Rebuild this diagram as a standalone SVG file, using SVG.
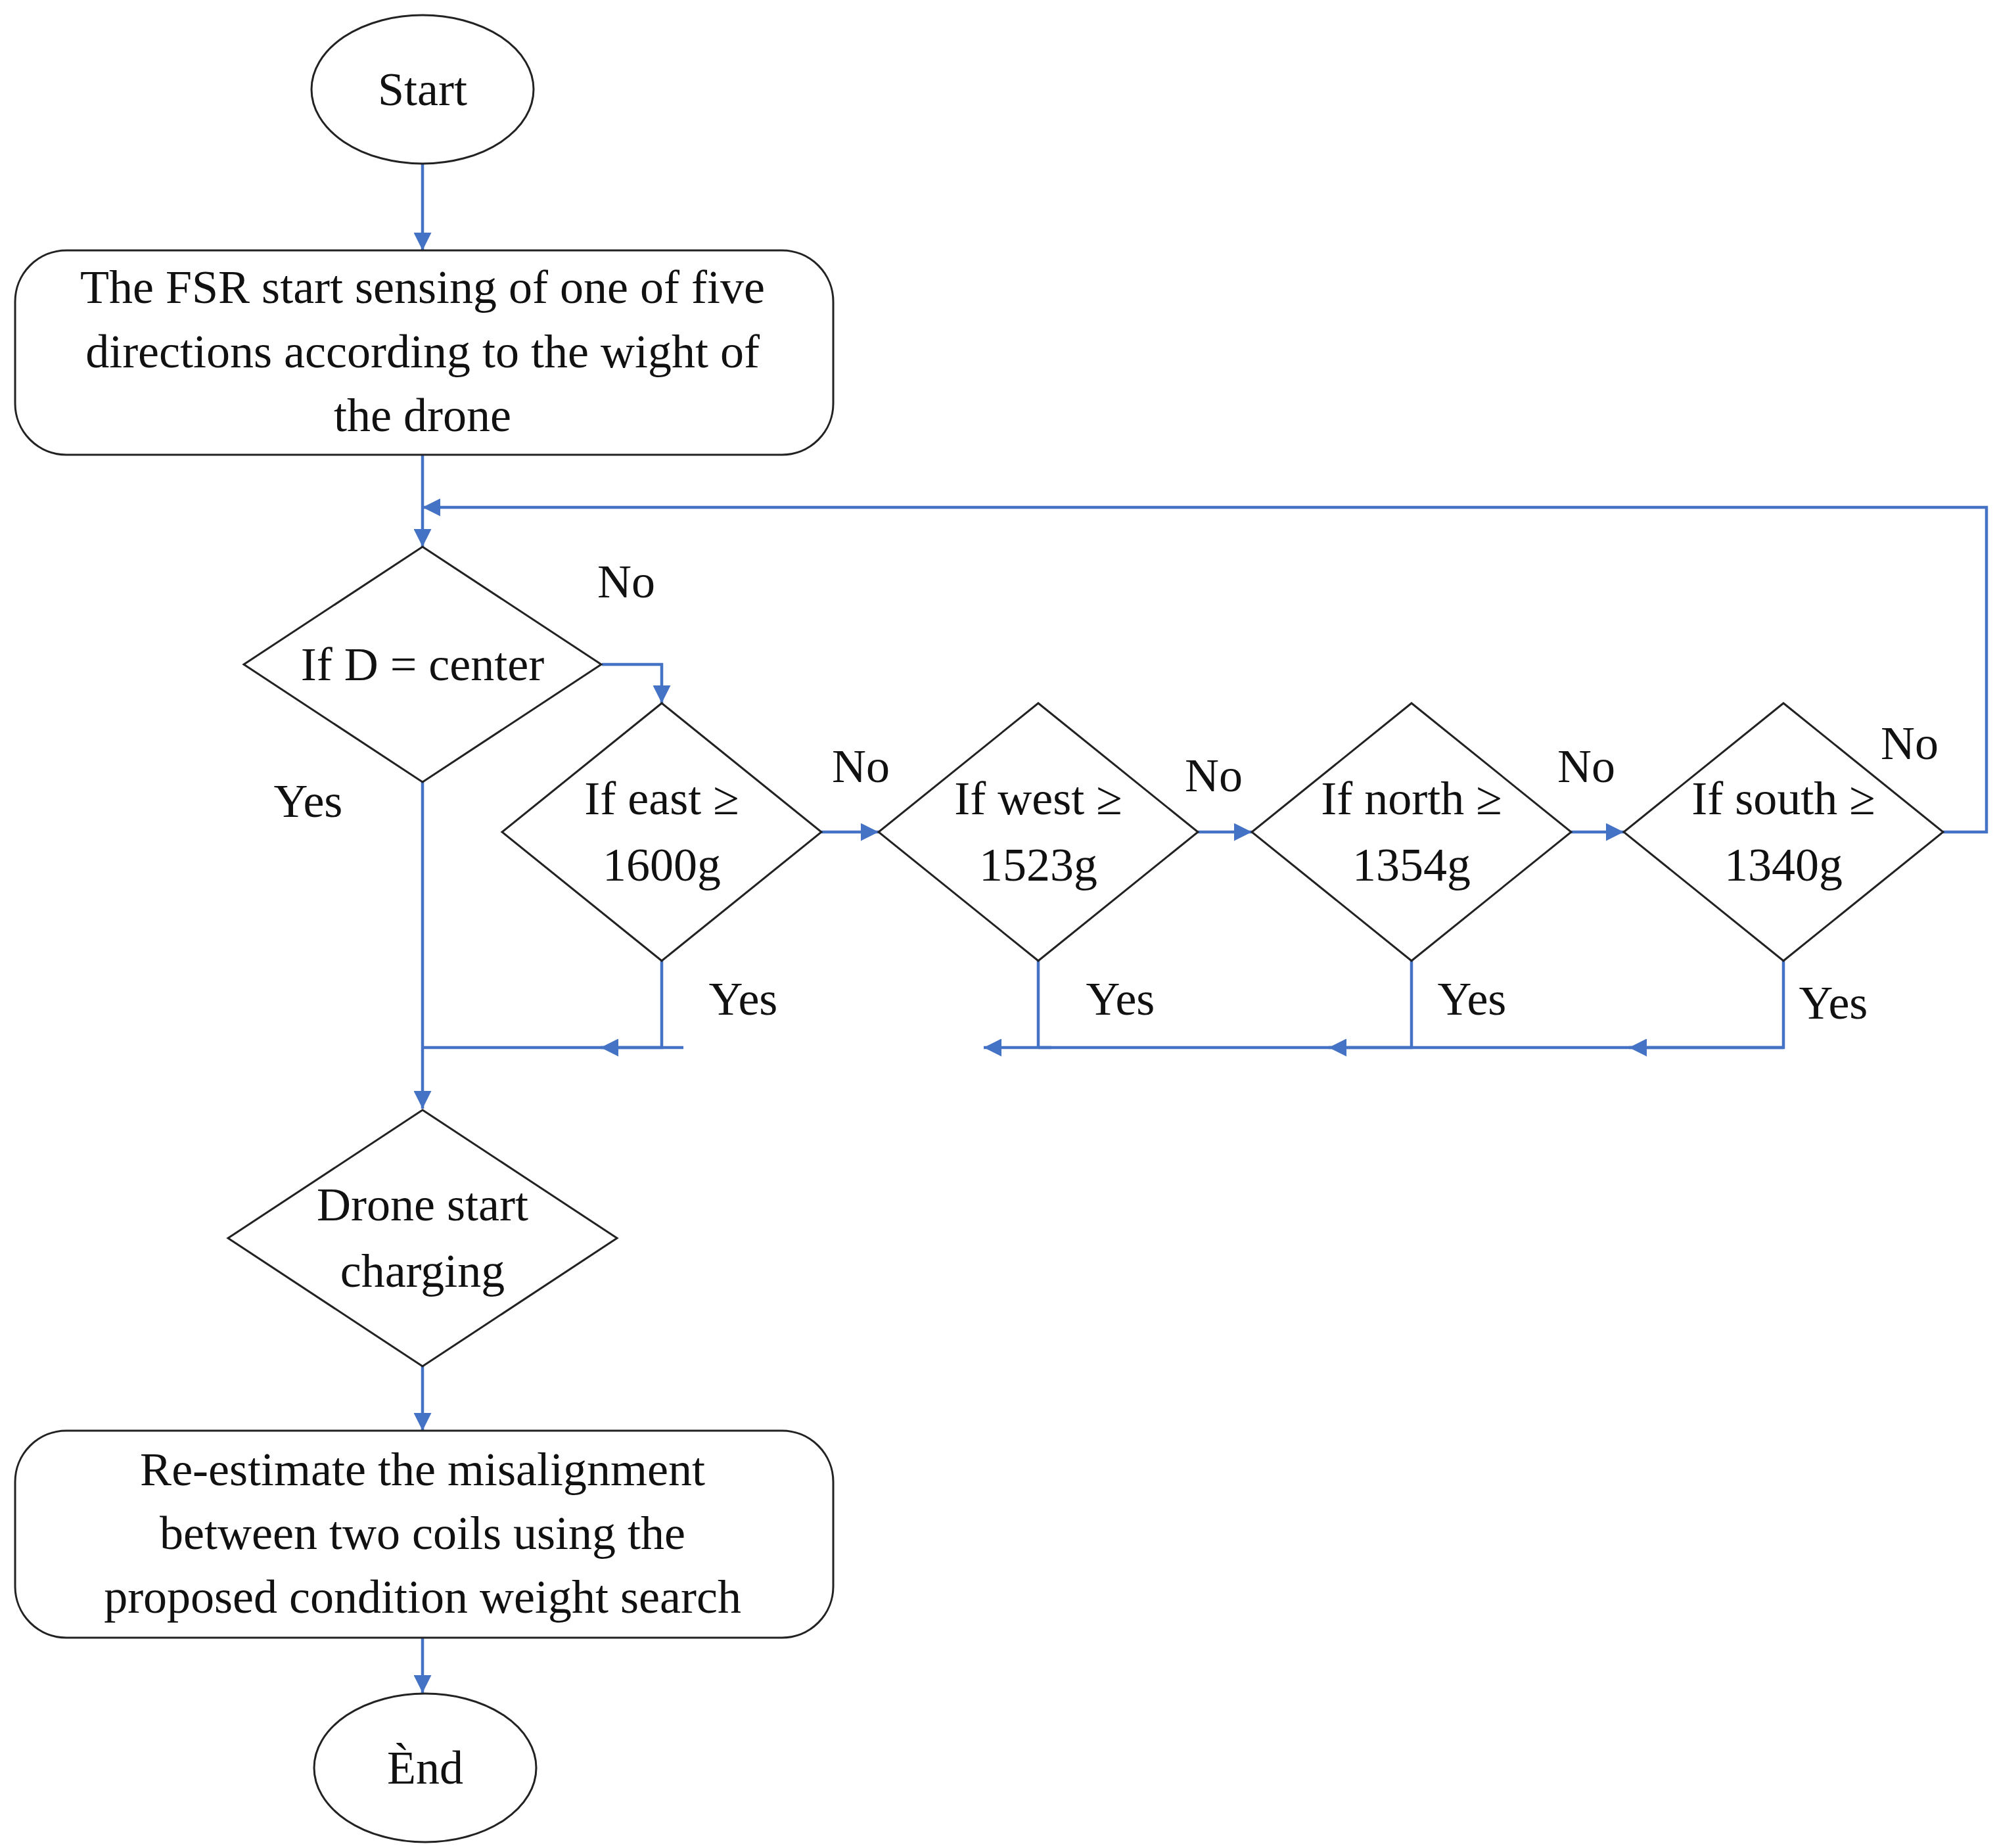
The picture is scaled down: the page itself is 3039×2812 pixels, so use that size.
<svg xmlns="http://www.w3.org/2000/svg" width="3039" height="2812" viewBox="0 0 3039 2812">
<style>
.s{fill:#fff;stroke:#222;stroke-width:3}
.c{fill:none;stroke:#4472C4;stroke-width:4.5}
text{font-family:"Liberation Serif","Times New Roman",serif;font-size:72px;fill:#111;text-anchor:middle;dominant-baseline:central}
</style>
<defs><marker id="a" viewBox="0 0 10 10" refX="10" refY="5" markerWidth="6" markerHeight="6" orient="auto" markerUnits="strokeWidth"><path d="M0,0L10,5L0,10z" fill="#4472C4"/></marker></defs>
<rect width="3039" height="2812" fill="#fff"/>
<g id="connectors">
<path class="c" d="M643,249V381" marker-end="url(#a)"/>
<path class="c" d="M643,692V832" marker-end="url(#a)"/>
<path class="c" d="M916,1011H1007V1070" marker-end="url(#a)"/>
<path class="c" d="M1250,1266H1337" marker-end="url(#a)"/>
<path class="c" d="M1823,1266H1905" marker-end="url(#a)"/>
<path class="c" d="M2391,1266H2471" marker-end="url(#a)"/>
<path class="c" d="M2957,1266H3023V772H643" marker-end="url(#a)"/>
<path class="c" d="M643,1190V1687" marker-end="url(#a)"/>
<path class="c" d="M1007,1462V1594H643"/>
<path class="c" d="M1580,1462V1594"/>
<path class="c" d="M2148,1462V1594"/>
<path class="c" d="M2714,1462V1594H1580"/>
<path class="c" d="M1040,1594H914" marker-end="url(#a)"/>
<path class="c" d="M1600,1594H1497" marker-end="url(#a)"/>
<path class="c" d="M2150,1594H2022" marker-end="url(#a)"/>
<path class="c" d="M2714,1594H2479" marker-end="url(#a)"/>
<path class="c" d="M643,2079V2177" marker-end="url(#a)"/>
<path class="c" d="M643,2492V2576" marker-end="url(#a)"/>
</g>
<g id="start"><ellipse class="s" cx="643" cy="136" rx="169" ry="113"/><text x="643" y="136">Start</text></g>
<g id="sense"><rect class="s" x="23" y="381" width="1245" height="311" rx="78"/><text x="643" y="437">The FSR start sensing of one of five</text><text x="643" y="535">directions according to the wight of</text><text x="643" y="632">the drone</text></g>
<g id="center"><polygon class="s" points="643,832 915,1011 643,1190 371,1011"/><text x="643" y="1011">If D = center</text></g>
<g id="east"><polygon class="s" points="1007,1070 1250,1266 1007,1462 764,1266"/><text x="1007" y="1215">If east ≥</text><text x="1007" y="1316">1600g</text></g>
<g id="west"><polygon class="s" points="1580,1070 1823,1266 1580,1462 1337,1266"/><text x="1580" y="1215">If west ≥</text><text x="1580" y="1316">1523g</text></g>
<g id="north"><polygon class="s" points="2148,1070 2391,1266 2148,1462 1905,1266"/><text x="2148" y="1215">If north ≥</text><text x="2148" y="1316">1354g</text></g>
<g id="south"><polygon class="s" points="2714,1070 2957,1266 2714,1462 2471,1266"/><text x="2714" y="1215">If south ≥</text><text x="2714" y="1316">1340g</text></g>
<g id="charge"><polygon class="s" points="643,1689 939,1884 643,2079 347,1884"/><text x="643" y="1833">Drone start</text><text x="643" y="1934">charging</text></g>
<g id="reest"><rect class="s" x="23" y="2177" width="1245" height="315" rx="78"/><text x="643" y="2236">Re-estimate the misalignment</text><text x="643" y="2333">between two coils using the</text><text x="643" y="2430">proposed condition weight search</text></g>
<g id="end"><ellipse class="s" cx="647" cy="2690" rx="169" ry="113"/><text x="647" y="2690">Ènd</text></g>
<g id="labels">
<text x="953" y="885">No</text><text x="1310" y="1166">No</text><text x="1847" y="1180">No</text><text x="2414" y="1166">No</text><text x="2906" y="1131">No</text>
<text x="469" y="1219">Yes</text><text x="1131" y="1520">Yes</text><text x="1705" y="1520">Yes</text><text x="2240" y="1520">Yes</text><text x="2790" y="1526">Yes</text>
</g>
</svg>
